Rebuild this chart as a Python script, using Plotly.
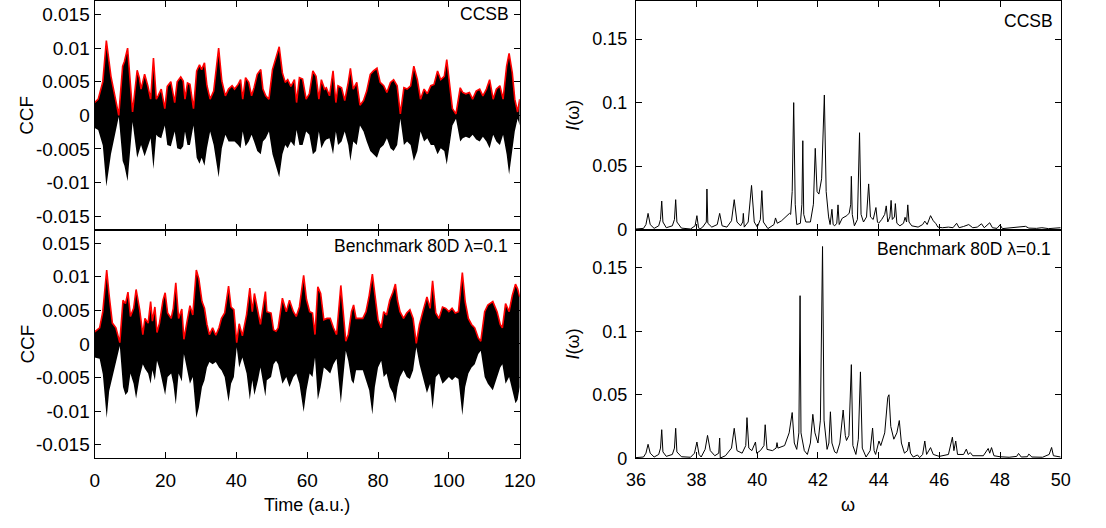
import plotly.graph_objects as go

W, H = 1106, 528

# ---------------- CCF data (values in units of 1e-3) ----------------
ccsb_t = [0, 1, 2.3, 3.3, 4.6, 6, 6.8, 7.9, 8.4, 9.3, 10.1, 10.7, 12, 12.6, 13.1, 14.1, 15, 15.8, 16.6, 17.4,
          17.9, 18.8, 19.8, 20.5, 21.5, 22.6, 23.3, 24.3, 25, 25.5, 26.2, 26.9, 27.9, 28.8, 29.6, 30.2, 31, 31.7,
          32.6, 33.6, 35, 35.9, 36.9, 37.8, 38.8, 39.5, 40.5, 41.2, 41.8, 42.6, 43.5, 44.3, 45, 45.9, 46.9, 47.5,
          48.3, 49.2, 50.2, 51.1, 52.1, 53, 53.8, 54.5, 55.4, 56.4, 57, 57.8, 58.7, 59.7, 60.6, 61.6, 62.5, 63.3,
          64, 64.9, 65.4, 66.3, 67.3, 68.1, 68.7, 69.7, 70.6, 71.6, 72.2, 73, 74, 74.9, 75.9, 76.8, 77.8, 78.7,
          79.7, 80.6, 81.6, 82.5, 83.5, 84.4, 85.4, 86.3, 87.3, 88.2, 89.2, 90.1, 91.1, 92, 93, 93.9, 94.9, 95.8,
          96.8, 97.7, 98.7, 99.4, 100.1, 101, 102, 103.2, 103.9, 104.8, 105.8, 106.7, 107.7, 108.7, 109.6, 110.6,
          111.5, 112.5, 113.4, 114.4, 115.3, 116.3, 117, 117.9, 118.6, 119.4, 120]
ccsb_abs = [1.9, 2.4, 5.0, 11.1, 5.8, 1.9, 0.0, 7.3, 8.0, 10.0, 4.9, 0.5, 6.7, 5.6, 3.9, 6.1, 4.4, 2.4, 8.5, 2.4,
            2.9, 3.9, 1.0, 4.3, 5.0, 1.9, 5.0, 5.7, 5.1, 2.4, 4.8, 4.6, 1.0, 6.6, 7.5, 6.8, 7.8, 4.4,
            2.4, 3.6, 10.0, 5.1, 2.9, 3.9, 4.4, 3.9, 4.6, 5.3, 2.4, 5.6, 4.9, 2.9, 4.1, 6.1, 6.8, 3.9,
            2.9, 2.4, 6.8, 8.3, 10.2, 6.3, 4.9, 5.3, 4.3, 5.3, 1.9, 5.6, 5.4, 2.4, 3.2, 6.6, 5.8, 2.4,
            5.3, 3.9, 4.1, 2.9, 6.6, 1.9, 4.4, 4.1, 2.2, 4.9, 7.0, 3.9, 4.9, 1.5, 2.2, 3.6, 6.1, 6.6,
            7.0, 4.9, 4.4, 3.4, 4.9, 5.3, 4.4, 0.2, 4.1, 3.9, 4.4, 7.3, 5.3, 2.4, 3.9, 3.2, 4.4, 4.6,
            6.6, 5.3, 5.8, 8.3, 5.3, 1.0, 0.2, 4.1, 3.4, 3.2, 3.4, 2.4, 3.6, 3.9, 2.9, 3.9,
            5.3, 2.4, 3.9, 4.4, 2.4, 7.3, 9.2, 6.3, 2.4, 0.5, 2.4]
ccsb_low = [-1.9, -2.2, -4.5, -10.6, -5.8, -2.4, -0.2, -6.8, -7.5, -9.8, -5.3, -1.0, -6.3, -5.3, -4.4, -6.1, -4.6, -3.4, -8.0, -2.9,
            -3.2, -3.4, -1.5, -4.4, -4.6, -2.4, -4.9, -5.1, -4.6, -2.4, -4.4, -4.4, -1.5, -6.3, -7.2, -6.3, -7.5, -4.9,
            -2.4, -4.4, -9.2, -4.9, -2.9, -3.9, -3.9, -3.9, -4.4, -4.9, -2.4, -4.6, -3.9, -2.9, -3.9, -5.3, -5.8, -3.9,
            -3.4, -2.4, -5.8, -7.3, -9.2, -5.8, -4.4, -4.9, -3.9, -4.6, -2.2, -4.4, -4.4, -2.4, -2.9, -5.8, -5.3, -2.4,
            -4.9, -3.9, -3.6, -3.4, -5.8, -2.4, -4.4, -3.9, -2.4, -4.4, -6.8, -3.9, -4.4, -1.5, -2.4, -3.9, -5.3, -5.8,
            -6.3, -4.9, -4.4, -3.4, -4.9, -5.3, -4.4, -0.5, -4.4, -3.9, -4.4, -6.8, -5.3, -2.4, -3.9, -3.4, -4.4, -4.4,
            -5.8, -4.9, -5.3, -7.3, -4.9, -1.5, -0.5, -3.9, -3.4, -3.2, -3.4, -2.9, -3.6, -3.9, -3.2, -3.9,
            -4.9, -2.9, -3.9, -4.4, -2.9, -5.8, -8.8, -5.3, -2.4, -0.5, -1.5]

bench_t = [0, 1.4, 2.3, 3.4, 4.1, 5.0, 6.0, 7.1, 8.0, 8.7, 9.4, 10.1, 11.0, 11.7, 12.7, 13.6, 14.2, 15.1, 15.8, 16.3,
           17.0, 17.6, 18.3, 19.3, 19.9, 20.6, 21.6, 22.2, 22.9, 23.7, 24.6, 25.2, 26.1, 26.9, 27.7, 28.7, 29.4, 30.3,
           31.0, 31.7, 32.4, 33.3, 34.2, 35.1, 35.8, 36.7, 37.8, 38.5, 39.3, 40.1, 40.8, 41.7, 42.9, 43.8, 44.5, 45.1,
           46.1, 46.8, 48.2, 48.6, 49.8, 50.5, 51.2, 51.8, 53.0, 54.1, 55.0, 56.1, 56.9, 57.8, 59.0, 59.8, 60.7, 61.5,
           62.2, 63.0, 63.8, 64.7, 65.6, 66.5, 67.4, 68.3, 69.5, 70.2, 70.9, 71.6, 72.5, 73.1, 73.8, 74.8, 75.7, 76.6,
           77.5, 78.4, 79.1, 80.0, 80.9, 81.6, 82.4, 83.3, 84.2, 84.9, 85.5, 86.2, 87.2, 88.1, 89.0, 89.9, 90.8, 91.7,
           92.8, 93.8, 94.7, 95.4, 96.3, 97.2, 98.2, 99.1, 100.0, 100.9, 101.8, 102.7, 103.8, 104.6, 105.5, 106.4,
           107.3, 108.3, 109.0, 110.1, 111.0, 112.4, 113.6, 114.5, 115.1, 116.0, 117.0, 117.9, 118.8, 119.4, 120.0]
bench_abs = [1.8, 2.4, 4.8, 11.0, 7.2, 3.1, 2.4, 0.2, 6.5, 6.0, 7.7, 4.1, 5.3, 8.1, 5.1, 1.4, 3.8, 3.1, 6.3, 3.4,
             5.5, 1.7, 3.1, 6.5, 7.6, 4.6, 3.8, 5.3, 9.1, 3.8, 5.2, 0.7, 3.4, 5.7, 4.3, 11.0, 9.7, 6.3,
             5.3, 2.9, 1.4, 2.4, 1.3, 2.4, 3.8, 4.6, 8.6, 5.5, 5.1, 0.2, 3.0, 1.2, 4.4, 8.3, 4.8, 7.5,
             4.8, 2.9, 7.8, 4.8, 4.6, 2.1, 1.9, 2.4, 6.8, 4.8, 6.5, 4.8, 4.1, 5.5, 10.2, 6.6, 4.8, 4.6,
             1.4, 8.5, 7.5, 3.6, 3.8, 3.8, 2.4, 1.4, 8.7, 4.8, 0.4, 1.4, 4.8, 5.8, 3.8, 3.8, 3.8, 4.8,
             7.2, 10.4, 7.2, 3.6, 2.4, 4.8, 4.3, 6.5, 7.7, 8.9, 6.5, 4.8, 3.8, 4.6, 5.1, 3.8, 0.1, 2.9,
             5.1, 7.0, 5.3, 9.4, 4.6, 3.8, 5.5, 5.3, 4.8, 5.3, 4.6, 4.8, 10.6, 6.3, 3.8, 2.9,
             2.4, 0.9, 0.4, 4.8, 5.8, 6.3, 4.8, 2.9, 2.4, 6.0, 4.8, 7.2, 8.9, 8.2, 7.0]
bench_low = [-2.0, -2.2, -4.5, -11.0, -7.0, -4.9, -3.0, -0.3, -6.4, -7.6, -7.1, -4.4, -5.9, -8.1, -4.9, -3.0, -3.7, -4.4, -5.9, -3.9,
             -5.4, -2.5, -3.7, -5.9, -7.6, -4.9, -4.4, -5.9, -9.0, -4.4, -5.6, -1.5, -3.9, -5.9, -4.9, -11.0, -9.5, -6.4,
             -5.4, -3.5, -2.7, -3.0, -2.7, -3.5, -3.9, -4.9, -8.6, -5.9, -4.9, -0.5, -3.5, -2.0, -4.4, -8.3, -5.4, -7.6,
             -5.4, -3.5, -7.8, -5.4, -4.9, -3.0, -2.5, -3.0, -5.9, -4.9, -6.4, -4.9, -4.4, -5.9, -10.1, -6.9, -4.4, -4.9,
             -2.0, -8.3, -6.4, -3.5, -3.9, -4.4, -3.0, -2.2, -8.8, -4.9, -1.0, -2.5, -5.4, -5.9, -3.9, -3.9, -3.9, -5.4,
             -6.9, -10.5, -6.4, -3.5, -2.5, -4.9, -4.4, -6.4, -7.3, -8.8, -6.4, -4.9, -3.9, -4.9, -5.2, -3.9, -0.5, -3.0,
             -5.4, -7.3, -5.9, -9.7, -4.9, -4.4, -5.9, -5.4, -4.9, -5.4, -4.9, -5.2, -10.6, -6.4, -4.4, -3.5,
             -3.0, -1.5, -1.0, -4.9, -5.9, -6.9, -4.9, -3.5, -3.0, -5.9, -4.9, -6.9, -8.8, -8.3, -6.4]
CCF_UNIT = 1e-3

# ---------------- Spectra data ----------------
ccsb_w = [36.0, 36.25, 36.33, 36.40, 36.47, 36.6, 36.75, 36.81, 36.85, 36.89, 37.0, 37.2, 37.27, 37.31, 37.35, 37.5,
          37.8, 37.95, 38.01, 38.06, 38.10, 38.2, 38.32, 38.34, 38.37, 38.5, 38.68, 38.76, 38.84, 39.0, 39.15, 39.24,
          39.33, 39.45, 39.52, 39.54, 39.57, 39.7, 39.81, 39.9, 40.0, 40.1, 40.15, 40.2, 40.35, 40.55, 40.60, 40.66,
          40.8, 41.0, 41.06, 41.1, 41.15, 41.20, 41.25, 41.3, 41.42, 41.47, 41.50, 41.53, 41.6, 41.75, 41.85, 41.91,
          41.97, 42.03, 42.12, 42.21, 42.27, 42.35, 42.40, 42.46, 42.50, 42.55, 42.62, 42.66, 42.7, 42.8, 42.95,
          43.03, 43.08, 43.10, 43.13, 43.2, 43.3, 43.37, 43.42, 43.5, 43.6, 43.67, 43.73, 43.82, 43.91, 43.96, 44.0,
          44.1, 44.2, 44.25, 44.3, 44.37, 44.41, 44.45, 44.52, 44.55, 44.6, 44.7, 44.82, 44.87, 44.92, 44.96, 45.0,
          45.09, 45.3, 45.45, 45.52, 45.6, 45.71, 45.8, 45.89, 45.95, 46.1, 46.3, 46.45, 46.57, 46.65, 46.8, 46.97,
          47.1, 47.25, 47.39, 47.48, 47.66, 47.75, 47.9, 48.0, 48.08, 48.3, 48.6, 48.84, 48.95, 49.2, 49.38, 49.6, 50.0]
ccsb_I = [0.0005, 0.001, 0.004, 0.0128, 0.004, 0.001, 0.003, 0.008, 0.0225, 0.006, 0.0015, 0.003, 0.008, 0.0236, 0.006, 0.0012,
          0.0005, 0.003, 0.011, 0.002, 0.0003, 0.002, 0.006, 0.032, 0.005, 0.002, 0.004, 0.0128, 0.003, 0.002, 0.007, 0.0236,
          0.006, 0.003, 0.006, 0.0128, 0.002, 0.006, 0.0348, 0.006, 0.002, 0.008, 0.0307, 0.006, 0.0008, 0.004, 0.0092, 0.005,
          0.007, 0.011, 0.0128, 0.012, 0.03, 0.100, 0.02, 0.004, 0.005, 0.02, 0.070, 0.012, 0.006, 0.006, 0.02, 0.064,
          0.03, 0.028, 0.04, 0.106, 0.03, 0.01, 0.004, 0.016, 0.004, 0.003, 0.005, 0.0195, 0.004, 0.009, 0.011,
          0.013, 0.02, 0.042, 0.012, 0.003, 0.008, 0.0763, 0.012, 0.006, 0.01, 0.036, 0.01, 0.008, 0.0174, 0.006, 0.005,
          0.008, 0.012, 0.0187, 0.006, 0.01, 0.023, 0.008, 0.01, 0.0205, 0.005, 0.003, 0.005, 0.0097, 0.006, 0.0195, 0.006,
          0.003, 0.002, 0.004, 0.0067, 0.004, 0.011, 0.007, 0.0046, 0.002, 0.0015, 0.002, 0.0015, 0.005, 0.0015, 0.0025, 0.004,
          0.0015, 0.002, 0.0046, 0.0015, 0.0054, 0.0015, 0.001, 0.0038, 0.0008, 0.0012, 0.002, 0.0026, 0.0012, 0.001, 0.0015, 0.0008, 0.0015]

bench_w = [36.0, 36.25, 36.33, 36.40, 36.47, 36.6, 36.75, 36.81, 36.85, 36.89, 37.0, 37.2, 37.27, 37.31, 37.35, 37.5,
           37.8, 37.93, 38.01, 38.08, 38.15, 38.28, 38.36, 38.45, 38.6, 38.73, 38.76, 38.78, 38.95, 39.15, 39.24, 39.33,
           39.5, 39.62, 39.66, 39.72, 39.82, 39.94, 39.98, 40.1, 40.22, 40.26, 40.32, 40.5, 40.62, 40.65, 40.68, 40.9,
           41.05, 41.15, 41.22, 41.3, 41.37, 41.41, 41.44, 41.55, 41.65, 41.75, 41.83, 41.9, 42.0, 42.08, 42.15, 42.2,
           42.3, 42.36, 42.41, 42.46, 42.55, 42.62, 42.72, 42.83, 42.9, 42.94, 43.02, 43.1, 43.15, 43.25, 43.33, 43.40,
           43.46, 43.585, 43.72, 43.80, 43.85, 43.9, 44.01, 44.07, 44.2, 44.3, 44.34, 44.4, 44.5, 44.6, 44.68, 44.75,
           44.85, 44.95, 45.0, 45.05, 45.14, 45.28, 45.35, 45.45, 45.52, 45.58, 45.71, 45.8, 46.0, 46.3, 46.43, 46.48,
           46.54, 46.6, 46.8, 46.89, 46.95, 47.02, 47.1, 47.3, 47.45, 47.61, 47.66, 47.72, 47.8, 48.0, 48.3, 48.55,
           48.61, 48.7, 48.9, 48.95, 49.05, 49.4, 49.62, 49.70, 49.76, 50.0]
bench_I = [0.0005, 0.001, 0.004, 0.011, 0.004, 0.001, 0.003, 0.008, 0.0225, 0.005, 0.0015, 0.003, 0.008, 0.0236, 0.005, 0.0012,
           0.0008, 0.004, 0.0128, 0.003, 0.001, 0.007, 0.018, 0.006, 0.002, 0.004, 0.0159, 0.0002, 0.002, 0.008, 0.0236, 0.006,
           0.004, 0.01, 0.032, 0.008, 0.006, 0.0128, 0.004, 0.006, 0.01, 0.0264, 0.007, 0.006, 0.008, 0.0123, 0.008, 0.01,
           0.02, 0.036, 0.012, 0.007, 0.02, 0.128, 0.02, 0.006, 0.003, 0.012, 0.0346, 0.02, 0.012, 0.03, 0.1667, 0.03,
           0.007, 0.012, 0.0366, 0.012, 0.005, 0.004, 0.012, 0.038, 0.018, 0.014, 0.018, 0.0737, 0.01, 0.003, 0.015, 0.068,
           0.008, 0.001, 0.006, 0.0238, 0.006, 0.003, 0.0136, 0.01, 0.02, 0.048, 0.05, 0.025, 0.015, 0.02, 0.0297, 0.012,
           0.004, 0.006, 0.0128, 0.004, 0.001, 0.0026, 0.0005, 0.003, 0.0136, 0.003, 0.0084, 0.003, 0.0015, 0.003, 0.0166, 0.006,
           0.0136, 0.003, 0.003, 0.0072, 0.003, 0.0045, 0.002, 0.002, 0.002, 0.0077, 0.004, 0.0084, 0.002, 0.0012, 0.0008, 0.0015,
           0.0038, 0.001, 0.0012, 0.0033, 0.001, 0.0008, 0.003, 0.0085, 0.002, 0.001]

time_ticks = [0, 20, 40, 60, 80, 100, 120]
ccf_ticks = [-0.015, -0.01, -0.005, 0, 0.005, 0.01, 0.015]
ccf_ticktext = ["-0.015", "-0.01", "-0.005", "0", "0.005", "0.01", "0.015"]
w_ticks = [36, 38, 40, 42, 44, 46, 48, 50]
I_ticks = [0, 0.05, 0.1, 0.15]
I_ticktext = ["0", "0.05", "0.1", "0.15"]

# ---------------- figure ----------------
fig = go.Figure()

def px_x(p):
    return p / W

def px_y(p):
    return (H - p) / H

# panel placement (pixels)
L_X = [px_x(86.7), px_x(522.0)]
R_X = [px_x(641.0), px_x(1076.0)]
TOP_Y = [px_y(233.5), px_y(0.0)]
BOT_Y = [px_y(467.0), px_y(233.5)]

def add_ccf(t, upper, lower, xa, ya):
    fig.add_trace(go.Scatter(x=t, y=[v * CCF_UNIT for v in lower], mode="lines",
                             line=dict(width=0, color="black"), xaxis=xa, yaxis=ya,
                             showlegend=False, hoverinfo="skip"))
    fig.add_trace(go.Scatter(x=t, y=[v * CCF_UNIT for v in upper], mode="lines",
                             line=dict(width=0, color="black"), fill="tonexty", fillcolor="black",
                             xaxis=xa, yaxis=ya, showlegend=False, hoverinfo="skip"))
    fig.add_trace(go.Scatter(x=t, y=[v * CCF_UNIT for v in upper], mode="lines",
                             line=dict(width=1.6, color="#ff0000"), xaxis=xa, yaxis=ya,
                             showlegend=False))

add_ccf(ccsb_t, ccsb_abs, ccsb_low, "x", "y")
add_ccf(bench_t, bench_abs, bench_low, "x2", "y2")

fig.add_trace(go.Scatter(x=ccsb_w, y=ccsb_I, mode="lines", line=dict(width=1, color="black"),
                         xaxis="x3", yaxis="y3", showlegend=False))
fig.add_trace(go.Scatter(x=bench_w, y=bench_I, mode="lines", line=dict(width=1, color="black"),
                         xaxis="x4", yaxis="y4", showlegend=False))

FONT = "Liberation Sans, Arial, Helvetica, sans-serif"

def ax(size, **kw):
    d = dict(showline=True, linecolor="black", linewidth=1.2, mirror="allticks", ticks="inside",
             ticklen=6, tickwidth=1, tickcolor="black", showgrid=False, zeroline=False,
             tickfont=dict(family=FONT, size=size, color="black"))
    d.update(kw)
    return d

fig.update_layout(
    width=W, height=H, margin=dict(l=0, r=0, t=0, b=0),
    paper_bgcolor="white", plot_bgcolor="white",
    font=dict(family=FONT, size=17, color="black"),
    xaxis=ax(19, domain=L_X, range=[0, 120], tickvals=time_ticks, showticklabels=False, anchor="y"),
    yaxis=ax(19, domain=TOP_Y, range=[-0.017, 0.017], tickvals=ccf_ticks, ticktext=ccf_ticktext, anchor="x"),
    xaxis2=ax(19, domain=L_X, range=[0, 120], tickvals=time_ticks, anchor="y2", ticklabelstandoff=5),
    yaxis2=ax(19, domain=BOT_Y, range=[-0.017, 0.017], tickvals=ccf_ticks, ticktext=ccf_ticktext, anchor="x2"),
    xaxis3=ax(18, domain=R_X, range=[36, 50], tickvals=w_ticks, showticklabels=False, anchor="y3"),
    yaxis3=ax(18, domain=TOP_Y, range=[0, 0.18], tickvals=I_ticks, ticktext=I_ticktext, anchor="x3",
              ticklabelstandoff=4),
    xaxis4=ax(18, domain=R_X, range=[36, 50], tickvals=w_ticks, anchor="y4", ticklabelstandoff=5),
    yaxis4=ax(18, domain=BOT_Y, range=[0, 0.18], tickvals=I_ticks, ticktext=I_ticktext, anchor="x4",
              ticklabelstandoff=4),
)

ann = [
    dict(text="CCF", x=px_x(17), y=px_y(116.7), textangle=-90, size=19),
    dict(text="CCF", x=px_x(17), y=px_y(350.3), textangle=-90, size=19),
    dict(text="<i>I</i>(ω)", x=px_x(577), y=px_y(116.7), textangle=-90, size=18),
    dict(text="<i>I</i>(ω)", x=px_x(577), y=px_y(350.3), textangle=-90, size=18),
    dict(text="Time (a.u.)", x=px_x(304), y=px_y(515), size=18),
    dict(text="ω", x=px_x(858.5), y=px_y(515), size=18),
    dict(text="CCSB", x=px_x(512.6), y=px_y(13.5), xanchor="right", size=17.5),
    dict(text="Benchmark 80D λ=0.1", x=px_x(512.3), y=px_y(250.7), xanchor="right", size=17.5),
    dict(text="CCSB", x=px_x(1070), y=px_y(20), xanchor="right", size=17.5),
    dict(text="Benchmark 80D λ=0.1", x=px_x(1068), y=px_y(253.3), xanchor="right", size=17.5),
]
for a in ann:
    size = a.pop("size")
    base = dict(xref="paper", yref="paper", showarrow=False, xanchor="center", yanchor="middle",
                font=dict(family=FONT, size=size, color="black"))
    base.update(a)
    fig.add_annotation(**base)

fig.write_html("out.html")
